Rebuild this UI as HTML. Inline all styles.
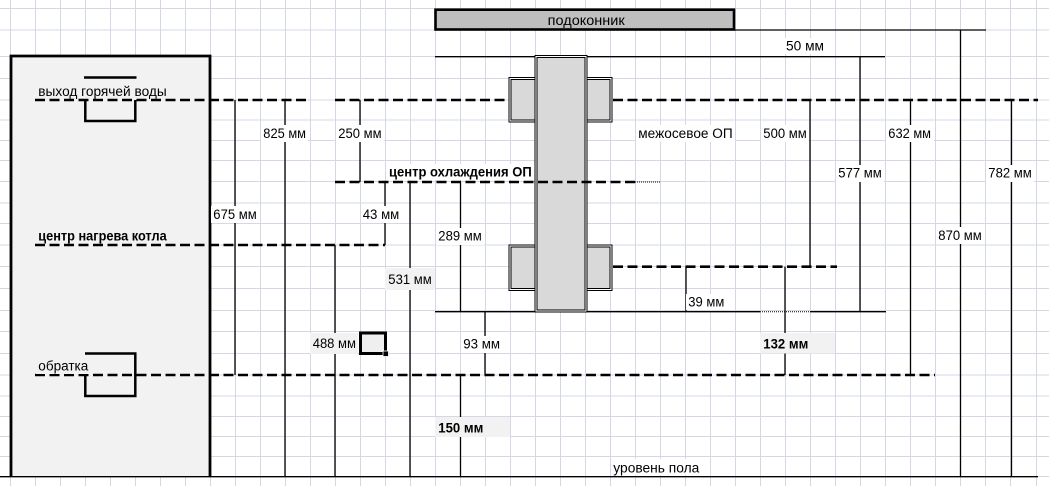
<!DOCTYPE html>
<html><head><meta charset="utf-8"><style>
html,body{margin:0;padding:0;background:#fff;}
svg{display:block;}
text{font-family:"Liberation Sans","DejaVu Sans",sans-serif;font-size:13.5px;fill:#000;}
.b{font-weight:bold;}
</style></head><body>
<svg width="1049" height="486" viewBox="0 0 1049 486" xmlns="http://www.w3.org/2000/svg">
<rect width="1049" height="486" fill="#fff"/>
<!-- grid -->
<path stroke="#d3d8e4" stroke-width="1" fill="none" d="
M10.5 0V486M35.5 0V486M60.5 0V486M85.5 0V486M110.5 0V486M135.5 0V486M160.5 0V486M185.5 0V486M210.5 0V486M235.5 0V486
M260.5 0V486M285.5 0V486M310.5 0V486M335.5 0V486M360.5 0V486M385.5 0V486M410.5 0V486M435.5 0V486M460.5 0V486M485.5 0V486
M510.5 0V486M535.5 0V486M560.5 0V486M585.5 0V486M610.5 0V486M635.5 0V486M660.5 0V486M685.5 0V486M710.5 0V486M735.5 0V486
M760.5 0V486M785.5 0V486M810.5 0V486M835.5 0V486M860.5 0V486M885.5 0V486M910.5 0V486M935.5 0V486M960.5 0V486M985.5 0V486
M1010.5 0V486M1036.5 0V486
M0 8.5H1049M0 30H1049M0 56.5H1049M0 78.5H1049M0 100H1049M0 120H1049M0 140.5H1049M0 160.5H1049M0 181.5H1049M0 203H1049
M0 223.5H1049M0 245H1049M0 266.5H1049M0 288.5H1049M0 310.5H1049M0 331.5H1049M0 353.5H1049M0 375H1049M0 396H1049M0 416.5H1049
M0 436.5H1049M0 456.5H1049M0 476.5H1049"/>

<!-- boiler box -->
<rect x="11" y="56" width="199" height="420.5" fill="#f2f2f2"/>
<path d="M11 476.5V56H210V476.5" fill="none" stroke="#000" stroke-width="2.8"/>

<!-- window sill -->
<rect x="435.5" y="9.7" width="298.5" height="19.8" fill="#bfbfbf" stroke="#000" stroke-width="2.6"/>

<!-- thin solid dimension lines -->
<g stroke="#000" stroke-width="1.3" fill="none">
<path d="M735 30H986"/>
<path d="M435 56.7H885"/>
<path d="M435 311.7H760M810 311.7H886"/>
<path d="M0 476.7H1038"/>
<path d="M235 100V375"/>
<path d="M285 100V476.7"/>
<path d="M360 100V182"/>
<path d="M335 245V476.7"/>
<path d="M385 182V245"/>
<path d="M410 182V476.7"/>
<path d="M460.5 182V311.7M460.5 375V476.7"/>
<path d="M485 311.7V375"/>
<path d="M686 266.7V311.7"/>
<path d="M785 266.7V375"/>
<path d="M810 100V266.7"/>
<path d="M860 56.7V311.7"/>
<path d="M910.5 100V375"/>
<path d="M960.5 30V476.7"/>
<path d="M1011.5 100V476.7"/>
</g>
<g stroke="#000" stroke-width="1" fill="none" stroke-dasharray="1 1">
<path d="M760 311.7H810"/>
<path d="M635 182H660"/>
</g>

<!-- pipe stubs on boiler -->
<g stroke="#000" stroke-width="2.5" fill="none">
<path d="M84 77.5H136.5"/>
<path d="M85.3 100V121H135.3V100"/>
<path d="M85 353.5H135.3V396H85.3V375"/>
</g>

<!-- radiator connectors -->
<g fill="#d9d9d9" stroke="#000" stroke-width="3">
<rect x="510" y="78.5" width="30" height="42.5"/>
<rect x="582" y="78.5" width="29" height="42.5"/>
<rect x="510" y="246" width="30" height="43.5"/>
<rect x="582" y="246" width="29" height="43.5"/>
</g>
<g fill="none" stroke="#fff" stroke-width="1">
<rect x="510" y="78.5" width="30" height="42.5"/>
<rect x="582" y="78.5" width="29" height="42.5"/>
<rect x="510" y="246" width="30" height="43.5"/>
<rect x="582" y="246" width="29" height="43.5"/>
</g>
<!-- radiator body -->
<rect x="536" y="56.5" width="50" height="254.5" fill="#d9d9d9" stroke="#000" stroke-width="3"/>
<rect x="536" y="56.5" width="50" height="254.5" fill="none" stroke="#fff" stroke-width="1"/>

<!-- dashed thick lines -->
<g stroke="#000" stroke-width="2.6" fill="none" stroke-dasharray="10 4.5">
<path d="M35 100H310"/>
<path d="M335 100H509"/>
<path d="M613 100H1038"/>
<path d="M335 182H635"/>
<path d="M35 245H385"/>
<path d="M613 266.7H837"/>
<path d="M35 375H935"/>
</g>

<!-- selected cell -->
<rect x="360.5" y="333" width="25" height="20.5" fill="#efefef" stroke="#000" stroke-width="3"/>
<rect x="383" y="351" width="5.5" height="5.5" fill="#000" stroke="#fff" stroke-width="0.8"/>

<!-- label backgrounds -->
<g fill="#fff">
<rect x="784" y="38" width="43" height="16"/>
<rect x="261" y="125" width="47" height="17"/>
<rect x="336" y="125" width="48" height="17"/>
<rect x="636" y="125" width="99" height="17"/>
<rect x="761" y="125" width="47.5" height="17"/>
<rect x="886" y="125" width="48" height="17"/>
<rect x="387" y="164" width="147" height="16"/>
<rect x="836" y="165" width="48" height="17"/>
<rect x="986" y="165" width="48" height="17"/>
<rect x="211" y="206" width="48" height="17"/>
<rect x="361" y="206" width="41" height="17"/>
<rect x="436" y="228" width="48" height="17"/>
<rect x="936" y="227" width="48" height="17"/>
<rect x="686" y="294" width="41" height="16"/>
<rect x="461" y="336" width="41" height="17"/>
<rect x="611" y="459" width="91" height="16"/>
</g>
<g fill="#f2f2f2">
<rect x="36" y="80" width="133" height="18"/>
<rect x="36" y="227" width="133" height="16"/>
<rect x="36" y="356" width="54" height="18"/>
<rect x="385" y="268" width="50" height="22"/>
<rect x="310" y="333" width="48" height="21"/>
<rect x="760" y="333" width="75" height="20.5"/>
<rect x="435" y="417" width="75" height="20"/>
</g>

<!-- labels -->
<text x="547.7" y="25" textLength="77" lengthAdjust="spacingAndGlyphs">подоконник</text>
<text x="786" y="50.7" textLength="38" lengthAdjust="spacingAndGlyphs">50 мм</text>
<text x="38.3" y="96.2" textLength="128.4" lengthAdjust="spacingAndGlyphs">выход горячей воды</text>
<text x="263.3" y="138" textLength="42.7" lengthAdjust="spacingAndGlyphs">825 мм</text>
<text x="338.3" y="138" textLength="43.3" lengthAdjust="spacingAndGlyphs">250 мм</text>
<text x="638.3" y="138" textLength="94.4" lengthAdjust="spacingAndGlyphs">межосевое ОП</text>
<text x="763.3" y="138" textLength="43.4" lengthAdjust="spacingAndGlyphs">500 мм</text>
<text x="888.3" y="138" textLength="42.7" lengthAdjust="spacingAndGlyphs">632 мм</text>
<text class="b" x="389" y="176.7" textLength="142.7" lengthAdjust="spacingAndGlyphs">центр охлаждения ОП</text>
<text x="838.3" y="177.7" textLength="43.4" lengthAdjust="spacingAndGlyphs">577 мм</text>
<text x="988.3" y="177.7" textLength="43.4" lengthAdjust="spacingAndGlyphs">782 мм</text>
<text x="213.3" y="219" textLength="43.4" lengthAdjust="spacingAndGlyphs">675 мм</text>
<text x="362.7" y="219" textLength="36.6" lengthAdjust="spacingAndGlyphs">43 мм</text>
<text class="b" x="38.3" y="240.4" textLength="128.4" lengthAdjust="spacingAndGlyphs">центр нагрева котла</text>
<text x="438.3" y="240.7" textLength="43.4" lengthAdjust="spacingAndGlyphs">289 мм</text>
<text x="938.3" y="240" textLength="43.4" lengthAdjust="spacingAndGlyphs">870 мм</text>
<text x="388.3" y="284" textLength="43.4" lengthAdjust="spacingAndGlyphs">531 мм</text>
<text x="688.3" y="306.4" textLength="36" lengthAdjust="spacingAndGlyphs">39 мм</text>
<text x="312.7" y="348" textLength="43.3" lengthAdjust="spacingAndGlyphs">488 мм</text>
<text x="463.3" y="348.7" textLength="36.7" lengthAdjust="spacingAndGlyphs">93 мм</text>
<text class="b" x="763.3" y="348.7" textLength="45" lengthAdjust="spacingAndGlyphs">132 мм</text>
<text x="38.3" y="370.4" textLength="50" lengthAdjust="spacingAndGlyphs">обратка</text>
<text class="b" x="438.3" y="432.4" textLength="45" lengthAdjust="spacingAndGlyphs">150 мм</text>
<text x="613.3" y="472.4" textLength="86" lengthAdjust="spacingAndGlyphs">уровень пола</text>
</svg>
</body></html>
